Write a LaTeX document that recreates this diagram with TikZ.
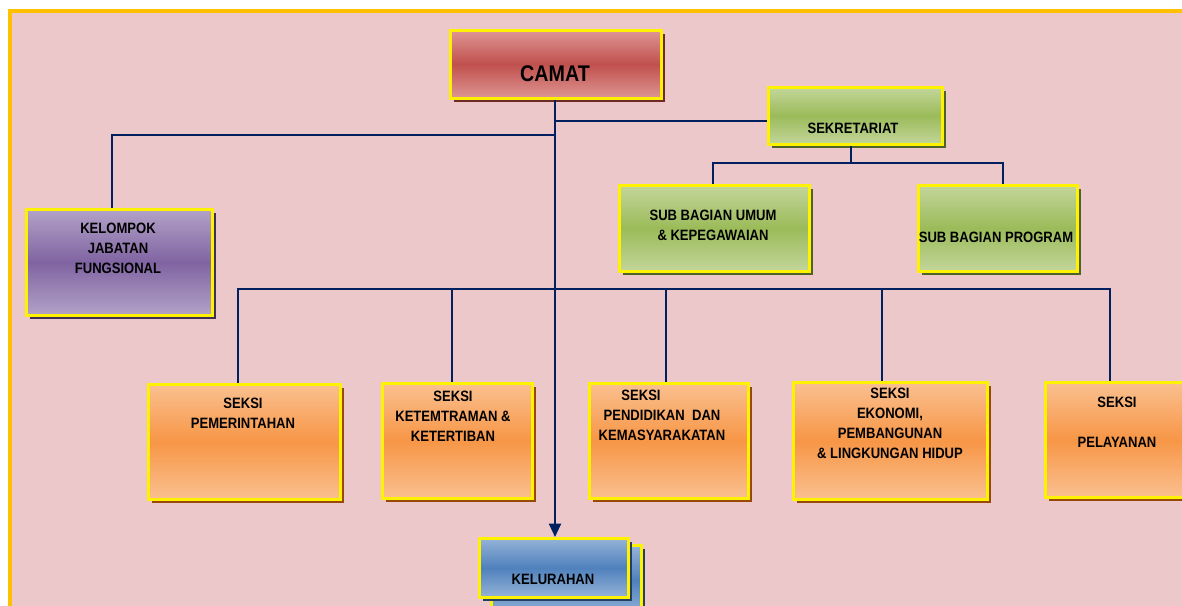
\documentclass[tikz,border=0pt]{standalone}
\usepackage{fontspec}
\setmainfont[FakeStretch=0.87]{Liberation Sans}
\usetikzlibrary{shadows}
\usetikzlibrary{arrows.meta}
\usepackage{xcolor}

\definecolor{bgpink}{RGB}{237,200,202}
\definecolor{frameorange}{RGB}{255,192,0}
\definecolor{linenavy}{RGB}{0,32,96}
\definecolor{redlight}{RGB}{222,150,148}
\definecolor{redmid}{RGB}{192,80,77}
\definecolor{reddark}{RGB}{110,42,40}
\definecolor{greenlight}{RGB}{195,214,155}
\definecolor{greenmid}{RGB}{155,187,89}
\definecolor{greendark}{RGB}{79,98,40}
\definecolor{purplelight}{RGB}{179,162,199}
\definecolor{purplemid}{RGB}{128,100,162}
\definecolor{purpledark}{RGB}{63,49,81}
\definecolor{orangelight}{RGB}{250,192,144}
\definecolor{orangemid}{RGB}{247,150,70}
\definecolor{orangedark}{RGB}{152,72,7}
\definecolor{bluelight}{RGB}{149,179,215}
\definecolor{bluemid}{RGB}{79,129,189}
\definecolor{bluedark}{RGB}{36,63,96}

\tikzset{
  box/.style={draw=yellow, line width=1.9pt, anchor=north west, inner sep=0pt},
  redbox/.style={box, top color=redlight, bottom color=redlight, middle color=redmid,
    general shadow={fill=reddark, shadow xshift=2.5pt, shadow yshift=-3pt}},
  greenbox/.style={box, top color=greenlight, bottom color=greenlight, middle color=greenmid,
    general shadow={fill=greendark, shadow xshift=2.5pt, shadow yshift=-3pt}},
  purplebox/.style={box, top color=purplelight, bottom color=purplelight, middle color=purplemid,
    general shadow={fill=purpledark, shadow xshift=2.5pt, shadow yshift=-3pt}},
  orangebox/.style={box, top color=orangelight, bottom color=orangelight, middle color=orangemid,
    general shadow={fill=orangedark, shadow xshift=2.5pt, shadow yshift=-3pt}},
  bluebox/.style={box, top color=bluelight, bottom color=bluelight, middle color=bluemid,
    general shadow={fill=bluedark, shadow xshift=2.5pt, shadow yshift=-3pt}},
  lbl/.style={inner sep=0.75pt, align=center, font=\fontsize{11.25}{15}\selectfont\bfseries},
  conn/.style={draw=linenavy, line width=1.5pt},
}

\begin{document}
\begin{tikzpicture}[x=0.75pt,y=0.75pt,yscale=-1,xscale=1]
\useasboundingbox (0,0) rectangle (1182,606);
\clip (0,0) rectangle (1182,606);

%Background with frame
\draw [draw=frameorange, line width=3pt, fill=bgpink] (10,11.5) rectangle (1200,625);

%Boxes
\node [redbox, minimum width=158.25pt, minimum height=51pt] (camat) at (449,29) {};
\node [greenbox, minimum width=130.5pt, minimum height=42.75pt] (sekre) at (767,86) {};
\node [purplebox, minimum width=139.5pt, minimum height=79.5pt] (kjf) at (25,208) {};
\node [greenbox, minimum width=142.5pt, minimum height=64.5pt] (umum) at (618,184) {};
\node [greenbox, minimum width=119.25pt, minimum height=64.5pt] (program) at (917,184) {};
\node [orangebox, minimum width=144pt, minimum height=86.25pt] (pem) at (147,383) {};
\node [orangebox, minimum width=112.5pt, minimum height=86.25pt] (trantib) at (381,382) {};
\node [orangebox, minimum width=119.25pt, minimum height=86.25pt] (pendidikan) at (588,382) {};
\node [orangebox, minimum width=145.5pt, minimum height=87.75pt] (ekonomi) at (792,381) {};
\node [orangebox, minimum width=112.5pt, minimum height=86.25pt] (pelayanan) at (1044,381) {};
\node [bluebox, minimum width=112.5pt, minimum height=52.5pt] (kelback) at (490,544) {};
\node [bluebox, minimum width=111.75pt, minimum height=44.25pt] (kel) at (478,537) {};

%Junctions
\coordinate (jsekre) at (555,121);
\coordinate (jkjf) at (555,135);
\coordinate (jseksi) at (555,289);
\coordinate (jsub) at (851,163);

%Connectors
\draw [conn] (jsekre) -- (sekre.west |- jsekre);
\draw [conn] (jkjf) -| (kjf.north -| 112,0);
\draw [conn] (sekre.south -| jsub) -- (jsub);
\draw [conn] (umum.north -| 713,0) |- (jsub) -| (program.north -| 1003,0);
\draw [conn] (pem.north -| 238,0) |- (jseksi) -| (pelayanan.north -| 1110,0);
\draw [conn] (jseksi -| 452,0) -- (trantib.north -| 452,0);
\draw [conn] (jseksi -| 666,0) -- (pendidikan.north -| 666,0);
\draw [conn] (jseksi -| 882,0) -- (ekonomi.north -| 882,0);
\draw [conn, -{Triangle[width=9pt,length=10pt]}] (camat.south -| 555,0) -- (kel.north -| 555,0);

% Text Node
\draw (555,73.5) node [inner sep=0.75pt, font=\fontsize{17}{20}\selectfont\bfseries] {CAMAT};
% Text Node
\draw (853,128) node [lbl] {SEKRETARIAT};
% Text Node
\draw (118,248) node [lbl] {KELOMPOK\\JABATAN\\FUNGSIONAL};
% Text Node
\draw (713,225) node [lbl] {SUB BAGIAN UMUM\\\& KEPEGAWAIAN};
% Text Node
\draw (996,237) node [lbl] {SUB BAGIAN PROGRAM};
% Text Node
\draw (243,413.5) node [lbl] {SEKSI\\PEMERINTAHAN};
% Text Node
\draw (453,416) node [lbl] {SEKSI\\KETEMTRAMAN \&\\KETERTIBAN};
% Text Node
\draw (662,415) node [lbl] {SEKSI\hspace*{2.8em}\\PENDIDIKAN\ \ DAN\\KEMASYARAKATAN};
% Text Node
\draw (890,423) node [lbl] {SEKSI\\EKONOMI,\\PEMBANGUNAN\\\& LINGKUNGAN HIDUP};
% Text Node
\draw (1117,422) node [lbl] {SEKSI\\[15pt]PELAYANAN};
% Text Node
\draw (553,579) node [lbl] {KELURAHAN};

\end{tikzpicture}
\end{document}
